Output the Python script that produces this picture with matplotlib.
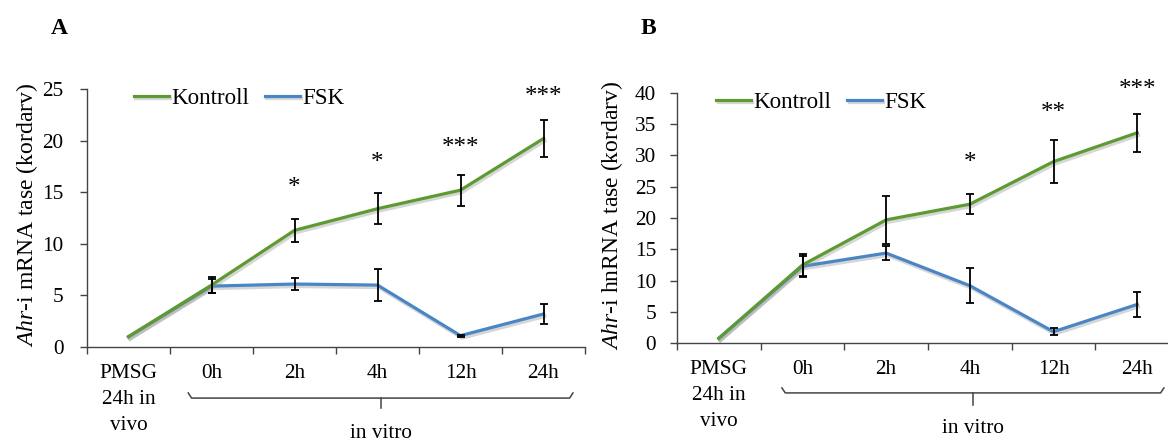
import matplotlib
matplotlib.use("Agg")
import matplotlib.pyplot as plt
import matplotlib.patheffects as pe
from matplotlib.transforms import blended_transform_factory
import numpy as np

plt.rcParams['font.family'] = ['Liberation Serif', 'DejaVu Serif']
plt.rcParams['mathtext.fontset'] = 'custom'
plt.rcParams['mathtext.it'] = 'Liberation Serif:italic'
plt.rcParams['mathtext.rm'] = 'Liberation Serif'

categories = ['PMSG\n24h in\nvivo', '0h', '2h', '4h', '12h', '24h']

a_kontroll = [1.0, 6.0, 11.3, 13.4, 15.2, 20.2]
a_kontroll_err = [0.0, 0.8, 1.1, 1.5, 1.5, 1.75]
a_fsk = [1.0, 5.9, 6.1, 6.0, 1.1, 3.2]
a_fsk_err = [0.0, 0.7, 0.6, 1.55, 0.1, 0.95]
a_stars = ['', '', '*', '*', '***', '***']
a_star_y = [0, 0, 15.4, 17.8, 19.3, 24.2]

b_kontroll = [0.8, 12.5, 19.7, 22.2, 29.0, 33.6]
b_kontroll_err = [0.0, 1.7, 3.8, 1.6, 3.4, 3.0]
b_fsk = [0.8, 12.3, 14.4, 9.2, 1.85, 6.2]
b_fsk_err = [0.0, 1.7, 1.1, 2.8, 0.55, 2.0]
b_stars = ['', '', '', '*', '**', '***']
b_star_y = [0, 0, 0, 28.7, 36.7, 40.4]

GREEN = '#5E9A32'
BLUE = '#4A86C5'
FS = 15.3

W, H = 1168, 441
fig = plt.figure(figsize=(W / 100, H / 100), dpi=100)


def make_panel(rect, kon, kon_err, fsk, fsk_err, stars, star_y, ymax, ystep,
               ylabel, letter, letter_xy, ylabel_x, br, ypad, leg_x):
    x0, ytop, x1, ybot = rect
    ax = fig.add_axes([x0 / W, 1 - ybot / H, (x1 - x0) / W, (ybot - ytop) / H])
    x = np.arange(len(categories))
    shadow = [pe.SimpleLineShadow(offset=(1.0, -1.8), shadow_color='0.55', alpha=0.35),
              pe.Normal()]
    ax.errorbar(x[1:], fsk[1:], yerr=fsk_err[1:], fmt='none', ecolor='black',
                elinewidth=1.3, capsize=3, capthick=1.3, zorder=4)
    ax.errorbar(x[1:], kon[1:], yerr=kon_err[1:], fmt='none', ecolor='black',
                elinewidth=1.3, capsize=3, capthick=1.3, zorder=4)
    ax.plot(x, fsk, color=BLUE, lw=2.3, label='FSK', zorder=3, path_effects=shadow)
    ax.plot(x, kon, color=GREEN, lw=2.3, label='Kontroll', zorder=3, path_effects=shadow)
    for xi, s, sy in zip(x, stars, star_y):
        if s:
            ax.text(xi, sy, s, ha='center', va='center', fontsize=18, clip_on=False)
    ax.set_xlim(-0.5, len(categories) - 0.5)
    ax.set_ylim(0, ymax)
    ax.set_yticks(np.arange(0, ymax + 0.1, ystep))
    ax.set_xticks(x)
    ax.set_xticklabels(categories, fontsize=FS, linespacing=1.5)
    ax.set_xticks(np.arange(-0.5, len(categories), 1.0), minor=True)
    ax.tick_params(axis='x', which='major', length=0, pad=12)
    ax.tick_params(axis='x', which='minor', length=5, width=1, color='#444444', direction='out')
    ax.tick_params(axis='y', labelsize=FS, length=5, width=1, color='#444444', pad=ypad)
    for sp in ['top', 'right']:
        ax.spines[sp].set_visible(False)
    ax.spines['left'].set_color('#444444')
    ax.spines['bottom'].set_color('#444444')
    ax.spines['left'].set_linewidth(1)
    ax.spines['bottom'].set_linewidth(1)
    h, l = ax.get_legend_handles_labels()
    ax.legend(h[::-1], l[::-1], loc='upper left', bbox_to_anchor=(leg_x, 1.04),
              ncol=2, frameon=False, fontsize=16.6, handlelength=1.5,
              handletextpad=0.1, columnspacing=0.7, borderaxespad=0)
    fig.text(ylabel_x / W, 1 - ((ytop + ybot) / 2 - 3) / H, ylabel, rotation=90,
             ha='center', va='center', fontsize=17)
    fig.text(letter_xy[0] / W, 1 - letter_xy[1] / H, letter, fontsize=17,
             fontweight='bold', ha='center', va='center')
    # bracket for "in vitro"
    bx0, bx1, yh, ytip, ystem, ytxt = br
    tr = blended_transform_factory(ax.transData, ax.transAxes)
    bm = (bx0 + bx1) / 2
    d = 0.04
    ax.plot([bx0, bx0 + d, bm - d, bm, bm + d, bx1 - d, bx1],
            [ytip, yh, yh, yh, yh, yh, ytip], transform=tr, color='#444444',
            lw=1.1, clip_on=False)
    ax.plot([bm, bm], [yh, ystem], transform=tr, color='#444444', lw=1.1, clip_on=False)
    ax.text(bm, ytxt, 'in vitro', transform=tr, ha='center', va='center',
            fontsize=FS, clip_on=False)
    return ax


make_panel((87, 89, 585, 347), a_kontroll, a_kontroll_err, a_fsk, a_fsk_err,
           a_stars, a_star_y, 25, 5, r'$\mathit{Ahr}$-i mRNA tase (kordarv)',
           'A', (59, 29), 27,
           (0.72, 5.355, -0.198, -0.178, -0.236, -0.336), 12, 0.076)

make_panel((677, 92.7, 1179, 343.3), b_kontroll, b_kontroll_err, b_fsk, b_fsk_err,
           b_stars, b_star_y, 40, 5, r'$\mathit{Ahr}$-i hnRNA tase (kordarv)',
           'B', (648, 29), 612,
           (0.754, 5.32, -0.198, -0.178, -0.246, -0.34), 10, 0.06)

fig.savefig('out.png', dpi=100)
